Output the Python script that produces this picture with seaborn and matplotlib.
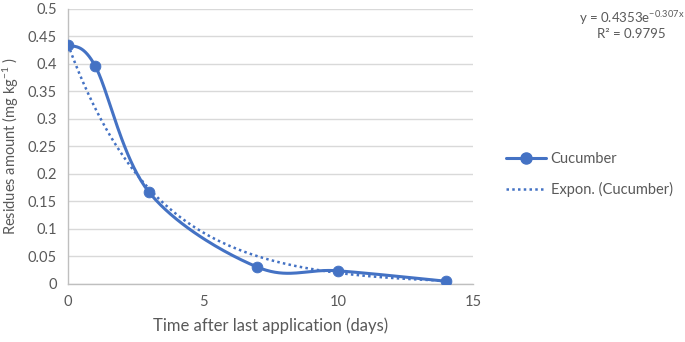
import numpy as np
import pandas as pd
import matplotlib
matplotlib.use("Agg")
import matplotlib.pyplot as plt
import seaborn as sns
from matplotlib.lines import Line2D

days = [0, 1, 3, 7, 10, 14]
residues = [0.435, 0.397, 0.167, 0.031, 0.024, 0.005]
fit_a = 0.4353
fit_b = -0.307
r2 = 0.9795
x_ticks = [0, 5, 10, 15]
y_ticks = [0, 0.05, 0.1, 0.15, 0.2, 0.25, 0.3, 0.35, 0.4, 0.45, 0.5]

sns.set_style("white")
plt.rcParams['font.family'] = ['Lato', 'DejaVu Sans']
plt.rcParams['mathtext.fontset'] = 'custom'
plt.rcParams['mathtext.rm'] = 'Lato'
plt.rcParams['mathtext.it'] = 'Lato'

blue = "#4472C4"
gray = "#595959"

fig = plt.figure(figsize=(6.85, 3.42), dpi=100)
ax = fig.add_axes([0.0993, 0.1696, 0.5912, 0.8041])

# Excel-like smoothed line (cubic Bezier through points)
P = np.column_stack([days, residues]).astype(float)
n = len(P)
sx, sy = [], []
t = np.linspace(0, 1, 40)
for i in range(n - 1):
    p0 = P[i - 1] if i > 0 else P[i]
    p1 = P[i]
    p2 = P[i + 1]
    p3 = P[i + 2] if i + 2 < n else P[i + 1]
    c1 = p1 + (p2 - p0) / 6
    c2 = p2 - (p3 - p1) / 6
    pts = ((1 - t)[:, None] ** 3) * p1 + 3 * ((1 - t)[:, None] ** 2) * t[:, None] * c1 \
        + 3 * (1 - t)[:, None] * (t[:, None] ** 2) * c2 + (t[:, None] ** 3) * p2
    sx.extend(pts[:, 0]); sy.extend(pts[:, 1])
smooth = pd.DataFrame({"x": sx, "y": sy})

xt = np.linspace(min(days), max(days), 200)
trend = pd.DataFrame({"x": xt, "y": fit_a * np.exp(fit_b * xt)})

sns.lineplot(data=trend, x="x", y="y", ax=ax, color=blue, lw=1.8,
             linestyle=(0, (1, 1.3)), sort=False)
sns.lineplot(data=smooth, x="x", y="y", ax=ax, color=blue, lw=2.2, sort=False)
sns.scatterplot(x=days, y=residues, ax=ax, color=blue, s=60, edgecolor=blue, zorder=5)

ax.set_xlim(0, 15)
ax.set_ylim(0, 0.5)
ax.set_xticks(x_ticks)
ax.set_yticks(y_ticks)
ax.set_xticklabels([str(v) for v in x_ticks])
ax.set_yticklabels([f"{v:g}" for v in y_ticks])
ax.yaxis.grid(True, color="#D9D9D9", lw=1)
ax.set_axisbelow(True)
for s in ["top", "right"]:
    ax.spines[s].set_visible(False)
for s in ["left", "bottom"]:
    ax.spines[s].set_color("#BFBFBF")
    ax.spines[s].set_linewidth(1)
ax.tick_params(axis="both", length=0, labelsize=10.5, colors=gray, pad=8)
ax.set_xlabel("Time after last application (days)", fontsize=12, color=gray, labelpad=6)
ax.set_ylabel(r"Residues amount (mg kg$^{-1}$ )", fontsize=10.5, color=gray)
ax.yaxis.set_label_coords(-0.116, 0.5)

handles = [Line2D([0], [0], color=blue, lw=2.2, marker="o", markersize=8),
           Line2D([0], [0], color=blue, lw=1.8, linestyle=(0, (1, 1.3)))]
fig.legend(handles, ["Cucumber", "Expon. (Cucumber)"], loc="center left",
           bbox_to_anchor=(0.738, 0.49), frameon=False, fontsize=10.5,
           labelcolor=gray, handlelength=2.8, handletextpad=0.3, labelspacing=1.05,
           borderaxespad=0, borderpad=0)

fig.text(0.922, 0.948, r"y = 0.4353e$^{-0.307x}$", ha="center", va="center",
         fontsize=9.5, color=gray)
fig.text(0.922, 0.900, f"R² = {r2}", ha="center", va="center", fontsize=9.5, color=gray)

fig.savefig("out.png", dpi=100)
